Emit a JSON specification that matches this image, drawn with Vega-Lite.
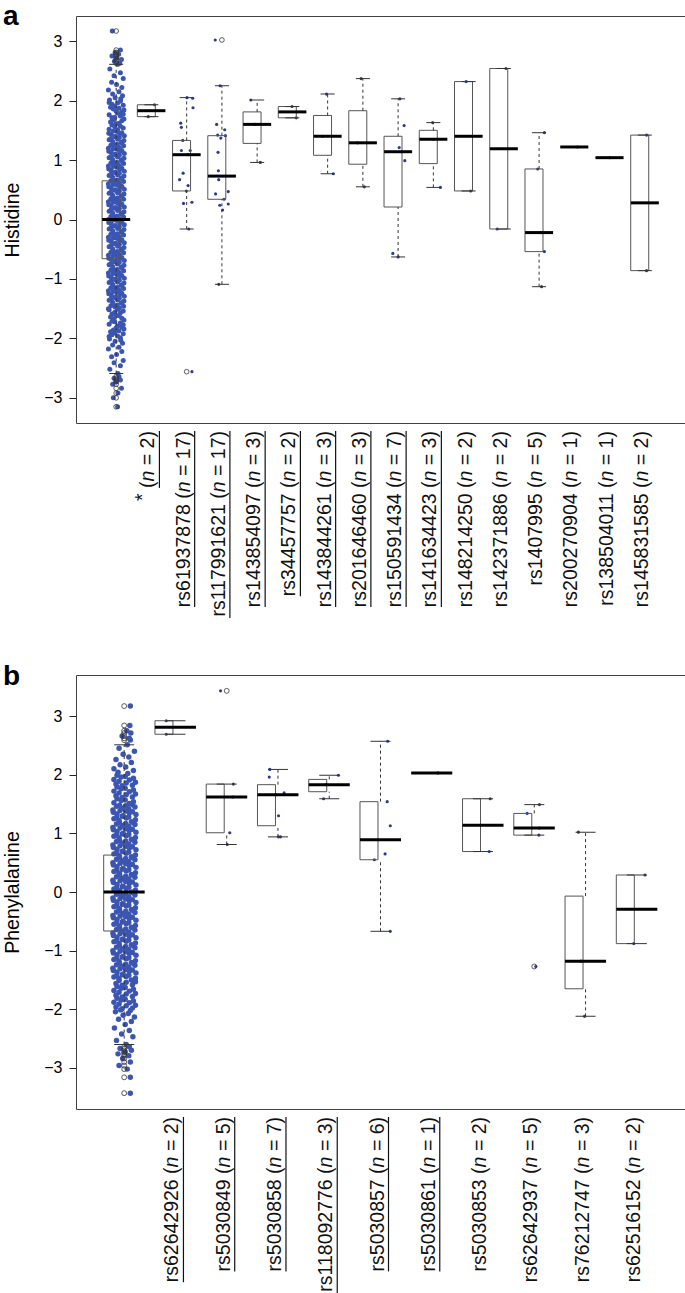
{
"$schema": "https://vega.github.io/schema/vega-lite/v6.json",
"background": "white",
"padding": {"left": 1, "top": 2, "right": 0, "bottom": 0},
"spacing": 42,
"resolve": {"scale": {"xOffset": "independent", "x": "independent", "y": "independent"}},
"config": {"view": {"stroke": "#404040", "strokeWidth": 1}, "font": "Liberation Sans"},
"datasets": {
"boxA": [{"p":1,"q1":-0.66,"med":0,"q3":0.65,"lo":-2.59,"hi":2.61},{"p":2,"q1":1.73,"med":1.83,"q3":1.93,"lo":1.73,"hi":1.93},{"p":3,"q1":0.48,"med":1.09,"q3":1.33,"lo":-0.16,"hi":2.05},{"p":4,"q1":0.34,"med":0.73,"q3":1.41,"lo":-1.09,"hi":2.25},{"p":5,"q1":1.28,"med":1.6,"q3":1.81,"lo":0.96,"hi":2.01},{"p":6,"q1":1.71,"med":1.81,"q3":1.9,"lo":1.71,"hi":1.9},{"p":7,"q1":1.08,"med":1.4,"q3":1.75,"lo":0.77,"hi":2.11},{"p":8,"q1":0.93,"med":1.29,"q3":1.83,"lo":0.55,"hi":2.37},{"p":9,"q1":0.21,"med":1.14,"q3":1.4,"lo":-0.63,"hi":2.03},{"p":10,"q1":0.94,"med":1.35,"q3":1.5,"lo":0.54,"hi":1.63},{"p":11,"q1":0.48,"med":1.4,"q3":2.32,"lo":0.48,"hi":2.32},{"p":12,"q1":-0.16,"med":1.19,"q3":2.54,"lo":-0.16,"hi":2.54},{"p":13,"q1":-0.54,"med":-0.22,"q3":0.85,"lo":-1.13,"hi":1.46},{"p":14,"q1":1.22,"med":1.22,"q3":1.22,"lo":1.22,"hi":1.22},{"p":15,"q1":1.04,"med":1.04,"q3":1.04,"lo":1.04,"hi":1.04},{"p":16,"q1":-0.86,"med":0.28,"q3":1.42,"lo":-0.86,"hi":1.42}],
"boxB": [{"p":1,"q1":-0.665,"med":0,"q3":0.63,"lo":-2.6,"hi":2.51},{"p":2,"q1":2.69,"med":2.81,"q3":2.92,"lo":2.69,"hi":2.92},{"p":3,"q1":1.01,"med":1.62,"q3":1.84,"lo":0.81,"hi":1.84},{"p":4,"q1":1.13,"med":1.66,"q3":1.83,"lo":0.94,"hi":2.09},{"p":5,"q1":1.71,"med":1.83,"q3":1.92,"lo":1.59,"hi":1.99},{"p":6,"q1":0.55,"med":0.89,"q3":1.54,"lo":-0.67,"hi":2.57},{"p":7,"q1":2.03,"med":2.03,"q3":2.03,"lo":2.03,"hi":2.03},{"p":8,"q1":0.69,"med":1.14,"q3":1.59,"lo":0.69,"hi":1.59},{"p":9,"q1":0.97,"med":1.09,"q3":1.34,"lo":0.97,"hi":1.49},{"p":10,"q1":-1.65,"med":-1.18,"q3":-0.07,"lo":-2.12,"hi":1.02},{"p":11,"q1":-0.88,"med":-0.295,"q3":0.29,"lo":-0.88,"hi":0.29}],
"labA": [{"p":2,"s":"*","n":"2","u":true},{"p":3,"s":"rs61937878","n":"17","u":true},{"p":4,"s":"rs117991621","n":"17","u":true},{"p":5,"s":"rs143854097","n":"3","u":true},{"p":6,"s":"rs34457757","n":"2","u":true},{"p":7,"s":"rs143844261","n":"3","u":true},{"p":8,"s":"rs201646460","n":"3","u":true},{"p":9,"s":"rs150591434","n":"7","u":true},{"p":10,"s":"rs141634423","n":"3","u":true},{"p":11,"s":"rs148214250","n":"2","u":false},{"p":12,"s":"rs142371886","n":"2","u":false},{"p":13,"s":"rs1407995","n":"5","u":false},{"p":14,"s":"rs200270904","n":"1","u":false},{"p":15,"s":"rs138504011","n":"1","u":false},{"p":16,"s":"rs145831585","n":"2","u":false}],
"labB": [{"p":2,"s":"rs62642926","n":"2","u":true},{"p":3,"s":"rs5030849","n":"5","u":true},{"p":4,"s":"rs5030858","n":"7","u":true},{"p":5,"s":"rs118092776","n":"3","u":true},{"p":6,"s":"rs5030857","n":"6","u":true},{"p":7,"s":"rs5030861","n":"1","u":true},{"p":8,"s":"rs5030853","n":"2","u":false},{"p":9,"s":"rs62642937","n":"5","u":false},{"p":10,"s":"rs76212747","n":"3","u":false},{"p":11,"s":"rs62516152","n":"2","u":false}],
"ptsA": [
{"p":1,"v":-2.59,"j":0.05},{"p":1,"v":-2.52,"j":-0.18},{"p":1,"v":-2.46,"j":0.12},{"p":1,"v":-2.41,"j":-0.06},{"p":1,"v":-2.37,"j":0.2},{"p":1,"v":-2.31,"j":-0.13},{"p":1,"v":-2.27,"j":0.01},{"p":1,"v":-2.22,"j":0.16},{"p":1,"v":-2.18,"j":-0.22},{"p":1,"v":-2.15,"j":0.08},{"p":1,"v":-2.11,"j":-0.1},{"p":1,"v":-2.08,"j":0.18},{"p":1,"v":-2.05,"j":-0.03},{"p":1,"v":-2.03,"j":0.13},{"p":1,"v":-2.01,"j":-0.19},
{"p":1,"v":-1.99,"j":0.12},{"p":1,"v":-1.97,"j":-0.2},{"p":1,"v":-1.96,"j":0.04},{"p":1,"v":-1.94,"j":-0.12},{"p":1,"v":-1.92,"j":0.2},{"p":1,"v":-1.91,"j":-0.04},
{"p":1,"v":-1.89,"j":-0.16},{"p":1,"v":-1.87,"j":0.08},{"p":1,"v":-1.86,"j":-0.08},{"p":1,"v":-1.84,"j":0.22},{"p":1,"v":-1.82,"j":0},{"p":1,"v":-1.81,"j":0.16},
{"p":1,"v":-1.79,"j":0.04},{"p":1,"v":-1.77,"j":0.2},{"p":1,"v":-1.76,"j":-0.2},{"p":1,"v":-1.74,"j":0.12},{"p":1,"v":-1.72,"j":-0.04},{"p":1,"v":-1.71,"j":-0.12},
{"p":1,"v":-1.69,"j":0.22},{"p":1,"v":-1.67,"j":-0.08},{"p":1,"v":-1.66,"j":0.16},{"p":1,"v":-1.64,"j":-0.16},{"p":1,"v":-1.62,"j":0.08},{"p":1,"v":-1.61,"j":0},
{"p":1,"v":-1.59,"j":-0.12},{"p":1,"v":-1.57,"j":0.12},{"p":1,"v":-1.56,"j":-0.04},{"p":1,"v":-1.54,"j":0.2},{"p":1,"v":-1.52,"j":-0.2},{"p":1,"v":-1.51,"j":0.04},
{"p":1,"v":-1.5,"j":-0.22},{"p":1,"v":-1.49,"j":0.09},{"p":1,"v":-1.47,"j":-0.03},{"p":1,"v":-1.46,"j":0.21},{"p":1,"v":-1.45,"j":-0.15},{"p":1,"v":-1.44,"j":0.03},{"p":1,"v":-1.42,"j":-0.09},{"p":1,"v":-1.41,"j":0.16},
{"p":1,"v":-1.4,"j":0.14},{"p":1,"v":-1.39,"j":-0.1},{"p":1,"v":-1.37,"j":0.22},{"p":1,"v":-1.36,"j":-0.2},{"p":1,"v":-1.35,"j":0.04},{"p":1,"v":-1.34,"j":-0.15},{"p":1,"v":-1.32,"j":0.09},{"p":1,"v":-1.31,"j":-0.04},
{"p":1,"v":-1.3,"j":-0.02},{"p":1,"v":-1.29,"j":0.23},{"p":1,"v":-1.27,"j":-0.14},{"p":1,"v":-1.26,"j":0.1},{"p":1,"v":-1.25,"j":-0.21},{"p":1,"v":-1.24,"j":0.16},{"p":1,"v":-1.22,"j":0.03},{"p":1,"v":-1.21,"j":-0.08},
{"p":1,"v":-1.2,"j":-0.22},{"p":1,"v":-1.19,"j":0.09},{"p":1,"v":-1.17,"j":-0.03},{"p":1,"v":-1.16,"j":0.21},{"p":1,"v":-1.15,"j":-0.15},{"p":1,"v":-1.14,"j":0.03},{"p":1,"v":-1.12,"j":-0.09},{"p":1,"v":-1.11,"j":0.16},
{"p":1,"v":-1.1,"j":0.14},{"p":1,"v":-1.09,"j":-0.1},{"p":1,"v":-1.07,"j":0.22},{"p":1,"v":-1.06,"j":-0.2},{"p":1,"v":-1.05,"j":0.04},{"p":1,"v":-1.04,"j":-0.15},{"p":1,"v":-1.02,"j":0.09},{"p":1,"v":-1.01,"j":-0.04},
{"p":1,"v":-1,"j":-0.02},{"p":1,"v":-0.99,"j":0.23},{"p":1,"v":-0.97,"j":-0.14},{"p":1,"v":-0.96,"j":0.1},{"p":1,"v":-0.95,"j":-0.21},{"p":1,"v":-0.94,"j":0.16},{"p":1,"v":-0.92,"j":0.03},{"p":1,"v":-0.91,"j":-0.08},
{"p":1,"v":-0.9,"j":-0.22},{"p":1,"v":-0.89,"j":0.09},{"p":1,"v":-0.87,"j":-0.03},{"p":1,"v":-0.86,"j":0.21},{"p":1,"v":-0.85,"j":-0.15},{"p":1,"v":-0.84,"j":0.03},{"p":1,"v":-0.82,"j":-0.09},{"p":1,"v":-0.81,"j":0.16},
{"p":1,"v":-0.8,"j":0.14},{"p":1,"v":-0.79,"j":-0.1},{"p":1,"v":-0.77,"j":0.22},{"p":1,"v":-0.76,"j":-0.2},{"p":1,"v":-0.75,"j":0.04},{"p":1,"v":-0.74,"j":-0.15},{"p":1,"v":-0.72,"j":0.09},{"p":1,"v":-0.71,"j":-0.04},
{"p":1,"v":-0.7,"j":-0.02},{"p":1,"v":-0.69,"j":0.23},{"p":1,"v":-0.67,"j":-0.14},{"p":1,"v":-0.66,"j":0.1},{"p":1,"v":-0.65,"j":-0.21},{"p":1,"v":-0.64,"j":0.16},{"p":1,"v":-0.62,"j":0.03},{"p":1,"v":-0.61,"j":-0.08},
{"p":1,"v":-0.6,"j":-0.22},{"p":1,"v":-0.59,"j":0.09},{"p":1,"v":-0.57,"j":-0.03},{"p":1,"v":-0.56,"j":0.21},{"p":1,"v":-0.55,"j":-0.15},{"p":1,"v":-0.54,"j":0.03},{"p":1,"v":-0.52,"j":-0.09},{"p":1,"v":-0.51,"j":0.16},
{"p":1,"v":-0.5,"j":0.14},{"p":1,"v":-0.49,"j":-0.1},{"p":1,"v":-0.47,"j":0.22},{"p":1,"v":-0.46,"j":-0.2},{"p":1,"v":-0.45,"j":0.04},{"p":1,"v":-0.44,"j":-0.15},{"p":1,"v":-0.42,"j":0.09},{"p":1,"v":-0.41,"j":-0.04},
{"p":1,"v":-0.4,"j":-0.02},{"p":1,"v":-0.39,"j":0.23},{"p":1,"v":-0.37,"j":-0.14},{"p":1,"v":-0.36,"j":0.1},{"p":1,"v":-0.35,"j":-0.21},{"p":1,"v":-0.34,"j":0.16},{"p":1,"v":-0.32,"j":0.03},{"p":1,"v":-0.31,"j":-0.08},
{"p":1,"v":-0.3,"j":-0.22},{"p":1,"v":-0.29,"j":0.09},{"p":1,"v":-0.27,"j":-0.03},{"p":1,"v":-0.26,"j":0.21},{"p":1,"v":-0.25,"j":-0.15},{"p":1,"v":-0.24,"j":0.03},{"p":1,"v":-0.22,"j":-0.09},{"p":1,"v":-0.21,"j":0.16},
{"p":1,"v":-0.2,"j":0.14},{"p":1,"v":-0.19,"j":-0.1},{"p":1,"v":-0.17,"j":0.22},{"p":1,"v":-0.16,"j":-0.2},{"p":1,"v":-0.15,"j":0.04},{"p":1,"v":-0.14,"j":-0.15},{"p":1,"v":-0.12,"j":0.09},{"p":1,"v":-0.11,"j":-0.04},
{"p":1,"v":-0.1,"j":-0.02},{"p":1,"v":-0.09,"j":0.23},{"p":1,"v":-0.07,"j":-0.14},{"p":1,"v":-0.06,"j":0.1},{"p":1,"v":-0.05,"j":-0.21},{"p":1,"v":-0.04,"j":0.16},{"p":1,"v":-0.02,"j":0.03},{"p":1,"v":-0.01,"j":-0.08},
{"p":1,"v":0,"j":-0.22},{"p":1,"v":0.01,"j":0.09},{"p":1,"v":0.03,"j":-0.03},{"p":1,"v":0.04,"j":0.21},{"p":1,"v":0.05,"j":-0.15},{"p":1,"v":0.06,"j":0.03},{"p":1,"v":0.08,"j":-0.09},{"p":1,"v":0.09,"j":0.16},
{"p":1,"v":0.1,"j":0.14},{"p":1,"v":0.11,"j":-0.1},{"p":1,"v":0.13,"j":0.22},{"p":1,"v":0.14,"j":-0.2},{"p":1,"v":0.15,"j":0.04},{"p":1,"v":0.16,"j":-0.15},{"p":1,"v":0.18,"j":0.09},{"p":1,"v":0.19,"j":-0.04},
{"p":1,"v":0.2,"j":-0.02},{"p":1,"v":0.21,"j":0.23},{"p":1,"v":0.23,"j":-0.14},{"p":1,"v":0.24,"j":0.1},{"p":1,"v":0.25,"j":-0.21},{"p":1,"v":0.26,"j":0.16},{"p":1,"v":0.28,"j":0.03},{"p":1,"v":0.29,"j":-0.08},
{"p":1,"v":0.3,"j":-0.22},{"p":1,"v":0.31,"j":0.09},{"p":1,"v":0.33,"j":-0.03},{"p":1,"v":0.34,"j":0.21},{"p":1,"v":0.35,"j":-0.15},{"p":1,"v":0.36,"j":0.03},{"p":1,"v":0.38,"j":-0.09},{"p":1,"v":0.39,"j":0.16},
{"p":1,"v":0.4,"j":0.14},{"p":1,"v":0.41,"j":-0.1},{"p":1,"v":0.43,"j":0.22},{"p":1,"v":0.44,"j":-0.2},{"p":1,"v":0.45,"j":0.04},{"p":1,"v":0.46,"j":-0.15},{"p":1,"v":0.48,"j":0.09},{"p":1,"v":0.49,"j":-0.04},
{"p":1,"v":0.5,"j":-0.02},{"p":1,"v":0.51,"j":0.23},{"p":1,"v":0.53,"j":-0.14},{"p":1,"v":0.54,"j":0.1},{"p":1,"v":0.55,"j":-0.21},{"p":1,"v":0.56,"j":0.16},{"p":1,"v":0.58,"j":0.03},{"p":1,"v":0.59,"j":-0.08},
{"p":1,"v":0.6,"j":-0.22},{"p":1,"v":0.61,"j":0.09},{"p":1,"v":0.63,"j":-0.03},{"p":1,"v":0.64,"j":0.21},{"p":1,"v":0.65,"j":-0.15},{"p":1,"v":0.66,"j":0.03},{"p":1,"v":0.68,"j":-0.09},{"p":1,"v":0.69,"j":0.16},
{"p":1,"v":0.7,"j":0.14},{"p":1,"v":0.71,"j":-0.1},{"p":1,"v":0.73,"j":0.22},{"p":1,"v":0.74,"j":-0.2},{"p":1,"v":0.75,"j":0.04},{"p":1,"v":0.76,"j":-0.15},{"p":1,"v":0.78,"j":0.09},{"p":1,"v":0.79,"j":-0.04},
{"p":1,"v":0.8,"j":-0.02},{"p":1,"v":0.81,"j":0.23},{"p":1,"v":0.83,"j":-0.14},{"p":1,"v":0.84,"j":0.1},{"p":1,"v":0.85,"j":-0.21},{"p":1,"v":0.86,"j":0.16},{"p":1,"v":0.88,"j":0.03},{"p":1,"v":0.89,"j":-0.08},
{"p":1,"v":0.9,"j":-0.22},{"p":1,"v":0.91,"j":0.09},{"p":1,"v":0.93,"j":-0.03},{"p":1,"v":0.94,"j":0.21},{"p":1,"v":0.95,"j":-0.15},{"p":1,"v":0.96,"j":0.03},{"p":1,"v":0.98,"j":-0.09},{"p":1,"v":0.99,"j":0.16},
{"p":1,"v":1,"j":0.14},{"p":1,"v":1.01,"j":-0.1},{"p":1,"v":1.03,"j":0.22},{"p":1,"v":1.04,"j":-0.2},{"p":1,"v":1.05,"j":0.04},{"p":1,"v":1.06,"j":-0.15},{"p":1,"v":1.08,"j":0.09},{"p":1,"v":1.09,"j":-0.04},
{"p":1,"v":1.1,"j":-0.02},{"p":1,"v":1.11,"j":0.23},{"p":1,"v":1.13,"j":-0.14},{"p":1,"v":1.14,"j":0.1},{"p":1,"v":1.15,"j":-0.21},{"p":1,"v":1.16,"j":0.16},{"p":1,"v":1.18,"j":0.03},{"p":1,"v":1.19,"j":-0.08},
{"p":1,"v":1.2,"j":-0.22},{"p":1,"v":1.21,"j":0.09},{"p":1,"v":1.23,"j":-0.03},{"p":1,"v":1.24,"j":0.21},{"p":1,"v":1.25,"j":-0.15},{"p":1,"v":1.26,"j":0.03},{"p":1,"v":1.28,"j":-0.09},{"p":1,"v":1.29,"j":0.16},
{"p":1,"v":1.3,"j":0.14},{"p":1,"v":1.31,"j":-0.1},{"p":1,"v":1.33,"j":0.22},{"p":1,"v":1.34,"j":-0.2},{"p":1,"v":1.35,"j":0.04},{"p":1,"v":1.36,"j":-0.15},{"p":1,"v":1.38,"j":0.09},{"p":1,"v":1.39,"j":-0.04},
{"p":1,"v":1.4,"j":-0.02},{"p":1,"v":1.41,"j":0.23},{"p":1,"v":1.43,"j":-0.14},{"p":1,"v":1.44,"j":0.1},{"p":1,"v":1.45,"j":-0.21},{"p":1,"v":1.46,"j":0.16},{"p":1,"v":1.48,"j":0.03},{"p":1,"v":1.49,"j":-0.08},
{"p":1,"v":1.51,"j":0.04},{"p":1,"v":1.52,"j":-0.2},{"p":1,"v":1.54,"j":0.2},{"p":1,"v":1.56,"j":-0.04},{"p":1,"v":1.57,"j":0.12},{"p":1,"v":1.59,"j":-0.12},
{"p":1,"v":1.61,"j":0},{"p":1,"v":1.62,"j":0.08},{"p":1,"v":1.64,"j":-0.16},{"p":1,"v":1.66,"j":0.16},{"p":1,"v":1.67,"j":-0.08},{"p":1,"v":1.69,"j":0.22},
{"p":1,"v":1.71,"j":-0.12},{"p":1,"v":1.72,"j":-0.04},{"p":1,"v":1.74,"j":0.12},{"p":1,"v":1.76,"j":-0.2},{"p":1,"v":1.77,"j":0.2},{"p":1,"v":1.79,"j":0.04},
{"p":1,"v":1.81,"j":0.16},{"p":1,"v":1.82,"j":0},{"p":1,"v":1.84,"j":0.22},{"p":1,"v":1.86,"j":-0.08},{"p":1,"v":1.87,"j":0.08},{"p":1,"v":1.89,"j":-0.16},
{"p":1,"v":1.91,"j":-0.04},{"p":1,"v":1.92,"j":0.2},{"p":1,"v":1.94,"j":-0.12},{"p":1,"v":1.96,"j":0.04},{"p":1,"v":1.97,"j":-0.2},{"p":1,"v":1.99,"j":0.12},
{"p":1,"v":2.01,"j":-0.19},{"p":1,"v":2.03,"j":0.13},{"p":1,"v":2.05,"j":-0.03},{"p":1,"v":2.08,"j":0.18},{"p":1,"v":2.11,"j":-0.1},{"p":1,"v":2.15,"j":0.08},{"p":1,"v":2.18,"j":-0.22},{"p":1,"v":2.22,"j":0.16},{"p":1,"v":2.27,"j":0.01},{"p":1,"v":2.31,"j":-0.13},{"p":1,"v":2.37,"j":0.2},{"p":1,"v":2.42,"j":-0.06},{"p":1,"v":2.47,"j":0.12},{"p":1,"v":2.53,"j":-0.18},{"p":1,"v":2.61,"j":0.05},
{"p":1,"v":2.63,"j":0.1,"o":1},{"p":1,"v":2.66,"j":-0.05,"o":1},{"p":1,"v":2.69,"j":0.15,"o":1},{"p":1,"v":2.72,"j":0.02,"o":1},{"p":1,"v":2.75,"j":-0.12,"o":1},{"p":1,"v":2.78,"j":0.07,"o":1},{"p":1,"v":2.81,"j":-0.03,"o":1},{"p":1,"v":2.85,"j":0.12,"o":1},{"p":1,"v":3.17,"j":-0.11,"o":1},
{"p":1,"v":-2.64,"j":0.08,"o":1},{"p":1,"v":-2.67,"j":-0.06,"o":1},{"p":1,"v":-2.7,"j":0.12,"o":1},{"p":1,"v":-2.73,"j":0,"o":1},{"p":1,"v":-2.77,"j":-0.1,"o":1},{"p":1,"v":-2.84,"j":0.15,"o":1},{"p":1,"v":-2.92,"j":0.05,"o":1},{"p":1,"v":-3,"j":-0.08,"o":1},{"p":1,"v":-3.15,"j":0.04,"o":1},
{"p":2,"v":1.93,"j":0.09},{"p":2,"v":1.73,"j":-0.09},
{"p":3,"v":2.05,"j":0.01},{"p":3,"v":2.04,"j":0.17},{"p":3,"v":1.88,"j":0.18},{"p":3,"v":1.62,"j":-0.17},{"p":3,"v":1.55,"j":-0.15},{"p":3,"v":1.33,"j":-0.11},{"p":3,"v":1.16,"j":-0.15},{"p":3,"v":1.16,"j":0.1},{"p":3,"v":1.09,"j":0.04},{"p":3,"v":0.78,"j":-0.1},{"p":3,"v":0.67,"j":-0.2},{"p":3,"v":0.57,"j":0.04},{"p":3,"v":0.48,"j":-0.01},{"p":3,"v":0.27,"j":-0.09},{"p":3,"v":0.29,"j":0.15},{"p":3,"v":-0.16,"j":0.06},{"p":3,"v":-2.56,"j":0.15,"o":1},
{"p":4,"v":3.02,"j":-0.19,"o":1},{"p":4,"v":2.25,"j":-0.05},{"p":4,"v":1.6,"j":-0.15},{"p":4,"v":1.51,"j":0.08},{"p":4,"v":1.42,"j":-0.12},{"p":4,"v":1.41,"j":0.1},{"p":4,"v":1.37,"j":-0.03},{"p":4,"v":1.13,"j":-0.11},{"p":4,"v":0.82,"j":-0.1},{"p":4,"v":0.67,"j":-0.09},{"p":4,"v":0.47,"j":0.18},{"p":4,"v":0.43,"j":-0.18},{"p":4,"v":0.34,"j":0.06},{"p":4,"v":0.26,"j":0.18},{"p":4,"v":0.24,"j":-0.06},{"p":4,"v":0.16,"j":0.02},{"p":4,"v":-1.09,"j":-0.09},
{"p":5,"v":2.01,"j":-0.18},{"p":5,"v":1.6,"j":-0.05},{"p":5,"v":0.96,"j":0.09},
{"p":6,"v":1.9,"j":-0.01},{"p":6,"v":1.71,"j":0.11},
{"p":7,"v":2.11,"j":-0.03},{"p":7,"v":1.4,"j":-0.14},{"p":7,"v":0.77,"j":0.16},
{"p":8,"v":2.37,"j":-0.05},{"p":8,"v":1.29,"j":-0.15},{"p":8,"v":0.55,"j":0.04},
{"p":9,"v":2.03,"j":0.05},{"p":9,"v":1.58,"j":0.17},{"p":9,"v":1.21,"j":0.03},{"p":9,"v":1.14,"j":0.1},{"p":9,"v":0.99,"j":0.19},{"p":9,"v":-0.57,"j":-0.15},{"p":9,"v":-0.63,"j":0},
{"p":10,"v":1.63,"j":-0.02},{"p":10,"v":1.35,"j":0},{"p":10,"v":0.54,"j":0.2},
{"p":11,"v":2.32,"j":-0.07},{"p":11,"v":0.48,"j":0.06},
{"p":12,"v":2.54,"j":0.06},{"p":12,"v":-0.16,"j":-0.19},
{"p":13,"v":1.46,"j":0.15},{"p":13,"v":0.85,"j":-0.04},{"p":13,"v":-0.22,"j":0.05},{"p":13,"v":-0.54,"j":0.15},{"p":13,"v":-1.13,"j":0.07},
{"p":14,"v":1.22,"j":0.09},
{"p":15,"v":1.04,"j":0},
{"p":16,"v":1.42,"j":0.05},{"p":16,"v":-0.86,"j":0.05}
],
"ptsB": [
{"p":1,"v":-2.6,"j":0.04},{"p":1,"v":-2.53,"j":-0.15},{"p":1,"v":-2.47,"j":0.17},{"p":1,"v":-2.42,"j":-0.05},{"p":1,"v":-2.36,"j":0.1},{"p":1,"v":-2.32,"j":-0.19},{"p":1,"v":-2.26,"j":0.02},{"p":1,"v":-2.21,"j":0.14},{"p":1,"v":-2.17,"j":-0.11},{"p":1,"v":-2.13,"j":0.2},{"p":1,"v":-2.1,"j":-0.02},{"p":1,"v":-2.07,"j":0.08},{"p":1,"v":-2.04,"j":-0.17},{"p":1,"v":-2.02,"j":0.12},{"p":1,"v":-2.01,"j":-0.07},
{"p":1,"v":-1.99,"j":-0.04},{"p":1,"v":-1.98,"j":0.16},{"p":1,"v":-1.96,"j":-0.16},{"p":1,"v":-1.94,"j":0.04},{"p":1,"v":-1.93,"j":0.22},{"p":1,"v":-1.91,"j":-0.1},
{"p":1,"v":-1.89,"j":0.1},{"p":1,"v":-1.88,"j":-0.2},{"p":1,"v":-1.86,"j":0.18},{"p":1,"v":-1.84,"j":-0.06},{"p":1,"v":-1.83,"j":0.02},{"p":1,"v":-1.81,"j":-0.14},
{"p":1,"v":-1.79,"j":-0.04},{"p":1,"v":-1.78,"j":0.16},{"p":1,"v":-1.76,"j":-0.16},{"p":1,"v":-1.74,"j":0.04},{"p":1,"v":-1.73,"j":0.22},{"p":1,"v":-1.71,"j":-0.1},
{"p":1,"v":-1.69,"j":0.1},{"p":1,"v":-1.68,"j":-0.2},{"p":1,"v":-1.66,"j":0.18},{"p":1,"v":-1.64,"j":-0.06},{"p":1,"v":-1.63,"j":0.02},{"p":1,"v":-1.61,"j":-0.14},
{"p":1,"v":-1.59,"j":-0.04},{"p":1,"v":-1.58,"j":0.16},{"p":1,"v":-1.56,"j":-0.16},{"p":1,"v":-1.54,"j":0.04},{"p":1,"v":-1.53,"j":0.22},{"p":1,"v":-1.51,"j":-0.1},
{"p":1,"v":-1.5,"j":0.14},{"p":1,"v":-1.48,"j":-0.1},{"p":1,"v":-1.47,"j":0.22},{"p":1,"v":-1.45,"j":-0.2},{"p":1,"v":-1.44,"j":0.04},{"p":1,"v":-1.43,"j":-0.15},{"p":1,"v":-1.42,"j":0.09},{"p":1,"v":-1.41,"j":-0.04},
{"p":1,"v":-1.4,"j":-0.02},{"p":1,"v":-1.38,"j":0.23},{"p":1,"v":-1.37,"j":-0.14},{"p":1,"v":-1.35,"j":0.1},{"p":1,"v":-1.34,"j":-0.21},{"p":1,"v":-1.33,"j":0.16},{"p":1,"v":-1.32,"j":0.03},{"p":1,"v":-1.31,"j":-0.08},
{"p":1,"v":-1.3,"j":-0.22},{"p":1,"v":-1.28,"j":0.09},{"p":1,"v":-1.27,"j":-0.03},{"p":1,"v":-1.25,"j":0.21},{"p":1,"v":-1.24,"j":-0.15},{"p":1,"v":-1.23,"j":0.03},{"p":1,"v":-1.22,"j":-0.09},{"p":1,"v":-1.21,"j":0.16},
{"p":1,"v":-1.2,"j":0.14},{"p":1,"v":-1.18,"j":-0.1},{"p":1,"v":-1.17,"j":0.22},{"p":1,"v":-1.15,"j":-0.2},{"p":1,"v":-1.14,"j":0.04},{"p":1,"v":-1.13,"j":-0.15},{"p":1,"v":-1.12,"j":0.09},{"p":1,"v":-1.11,"j":-0.04},
{"p":1,"v":-1.1,"j":-0.02},{"p":1,"v":-1.08,"j":0.23},{"p":1,"v":-1.07,"j":-0.14},{"p":1,"v":-1.05,"j":0.1},{"p":1,"v":-1.04,"j":-0.21},{"p":1,"v":-1.03,"j":0.16},{"p":1,"v":-1.02,"j":0.03},{"p":1,"v":-1.01,"j":-0.08},
{"p":1,"v":-1,"j":-0.22},{"p":1,"v":-0.98,"j":0.09},{"p":1,"v":-0.97,"j":-0.03},{"p":1,"v":-0.95,"j":0.21},{"p":1,"v":-0.94,"j":-0.15},{"p":1,"v":-0.93,"j":0.03},{"p":1,"v":-0.92,"j":-0.09},{"p":1,"v":-0.91,"j":0.16},
{"p":1,"v":-0.9,"j":0.14},{"p":1,"v":-0.88,"j":-0.1},{"p":1,"v":-0.87,"j":0.22},{"p":1,"v":-0.85,"j":-0.2},{"p":1,"v":-0.84,"j":0.04},{"p":1,"v":-0.83,"j":-0.15},{"p":1,"v":-0.82,"j":0.09},{"p":1,"v":-0.81,"j":-0.04},
{"p":1,"v":-0.8,"j":-0.02},{"p":1,"v":-0.78,"j":0.23},{"p":1,"v":-0.77,"j":-0.14},{"p":1,"v":-0.75,"j":0.1},{"p":1,"v":-0.74,"j":-0.21},{"p":1,"v":-0.73,"j":0.16},{"p":1,"v":-0.72,"j":0.03},{"p":1,"v":-0.71,"j":-0.08},
{"p":1,"v":-0.7,"j":-0.22},{"p":1,"v":-0.68,"j":0.09},{"p":1,"v":-0.67,"j":-0.03},{"p":1,"v":-0.65,"j":0.21},{"p":1,"v":-0.64,"j":-0.15},{"p":1,"v":-0.63,"j":0.03},{"p":1,"v":-0.62,"j":-0.09},{"p":1,"v":-0.61,"j":0.16},
{"p":1,"v":-0.6,"j":0.14},{"p":1,"v":-0.58,"j":-0.1},{"p":1,"v":-0.57,"j":0.22},{"p":1,"v":-0.55,"j":-0.2},{"p":1,"v":-0.54,"j":0.04},{"p":1,"v":-0.53,"j":-0.15},{"p":1,"v":-0.52,"j":0.09},{"p":1,"v":-0.51,"j":-0.04},
{"p":1,"v":-0.5,"j":-0.02},{"p":1,"v":-0.48,"j":0.23},{"p":1,"v":-0.47,"j":-0.14},{"p":1,"v":-0.45,"j":0.1},{"p":1,"v":-0.44,"j":-0.21},{"p":1,"v":-0.43,"j":0.16},{"p":1,"v":-0.42,"j":0.03},{"p":1,"v":-0.41,"j":-0.08},
{"p":1,"v":-0.4,"j":-0.22},{"p":1,"v":-0.38,"j":0.09},{"p":1,"v":-0.37,"j":-0.03},{"p":1,"v":-0.35,"j":0.21},{"p":1,"v":-0.34,"j":-0.15},{"p":1,"v":-0.33,"j":0.03},{"p":1,"v":-0.32,"j":-0.09},{"p":1,"v":-0.31,"j":0.16},
{"p":1,"v":-0.3,"j":0.14},{"p":1,"v":-0.28,"j":-0.1},{"p":1,"v":-0.27,"j":0.22},{"p":1,"v":-0.25,"j":-0.2},{"p":1,"v":-0.24,"j":0.04},{"p":1,"v":-0.23,"j":-0.15},{"p":1,"v":-0.22,"j":0.09},{"p":1,"v":-0.21,"j":-0.04},
{"p":1,"v":-0.2,"j":-0.02},{"p":1,"v":-0.18,"j":0.23},{"p":1,"v":-0.17,"j":-0.14},{"p":1,"v":-0.15,"j":0.1},{"p":1,"v":-0.14,"j":-0.21},{"p":1,"v":-0.13,"j":0.16},{"p":1,"v":-0.12,"j":0.03},{"p":1,"v":-0.11,"j":-0.08},
{"p":1,"v":-0.1,"j":-0.22},{"p":1,"v":-0.08,"j":0.09},{"p":1,"v":-0.07,"j":-0.03},{"p":1,"v":-0.05,"j":0.21},{"p":1,"v":-0.04,"j":-0.15},{"p":1,"v":-0.03,"j":0.03},{"p":1,"v":-0.02,"j":-0.09},{"p":1,"v":-0.01,"j":0.16},
{"p":1,"v":0,"j":0.14},{"p":1,"v":0.02,"j":-0.1},{"p":1,"v":0.03,"j":0.22},{"p":1,"v":0.05,"j":-0.2},{"p":1,"v":0.06,"j":0.04},{"p":1,"v":0.07,"j":-0.15},{"p":1,"v":0.08,"j":0.09},{"p":1,"v":0.09,"j":-0.04},
{"p":1,"v":0.1,"j":-0.02},{"p":1,"v":0.12,"j":0.23},{"p":1,"v":0.13,"j":-0.14},{"p":1,"v":0.15,"j":0.1},{"p":1,"v":0.16,"j":-0.21},{"p":1,"v":0.17,"j":0.16},{"p":1,"v":0.18,"j":0.03},{"p":1,"v":0.19,"j":-0.08},
{"p":1,"v":0.2,"j":-0.22},{"p":1,"v":0.22,"j":0.09},{"p":1,"v":0.23,"j":-0.03},{"p":1,"v":0.25,"j":0.21},{"p":1,"v":0.26,"j":-0.15},{"p":1,"v":0.27,"j":0.03},{"p":1,"v":0.28,"j":-0.09},{"p":1,"v":0.29,"j":0.16},
{"p":1,"v":0.3,"j":0.14},{"p":1,"v":0.32,"j":-0.1},{"p":1,"v":0.33,"j":0.22},{"p":1,"v":0.35,"j":-0.2},{"p":1,"v":0.36,"j":0.04},{"p":1,"v":0.37,"j":-0.15},{"p":1,"v":0.38,"j":0.09},{"p":1,"v":0.39,"j":-0.04},
{"p":1,"v":0.4,"j":-0.02},{"p":1,"v":0.42,"j":0.23},{"p":1,"v":0.43,"j":-0.14},{"p":1,"v":0.45,"j":0.1},{"p":1,"v":0.46,"j":-0.21},{"p":1,"v":0.47,"j":0.16},{"p":1,"v":0.48,"j":0.03},{"p":1,"v":0.49,"j":-0.08},
{"p":1,"v":0.5,"j":-0.22},{"p":1,"v":0.52,"j":0.09},{"p":1,"v":0.53,"j":-0.03},{"p":1,"v":0.55,"j":0.21},{"p":1,"v":0.56,"j":-0.15},{"p":1,"v":0.57,"j":0.03},{"p":1,"v":0.58,"j":-0.09},{"p":1,"v":0.59,"j":0.16},
{"p":1,"v":0.6,"j":0.14},{"p":1,"v":0.62,"j":-0.1},{"p":1,"v":0.63,"j":0.22},{"p":1,"v":0.65,"j":-0.2},{"p":1,"v":0.66,"j":0.04},{"p":1,"v":0.67,"j":-0.15},{"p":1,"v":0.68,"j":0.09},{"p":1,"v":0.69,"j":-0.04},
{"p":1,"v":0.7,"j":-0.02},{"p":1,"v":0.72,"j":0.23},{"p":1,"v":0.73,"j":-0.14},{"p":1,"v":0.75,"j":0.1},{"p":1,"v":0.76,"j":-0.21},{"p":1,"v":0.77,"j":0.16},{"p":1,"v":0.78,"j":0.03},{"p":1,"v":0.79,"j":-0.08},
{"p":1,"v":0.8,"j":-0.22},{"p":1,"v":0.82,"j":0.09},{"p":1,"v":0.83,"j":-0.03},{"p":1,"v":0.85,"j":0.21},{"p":1,"v":0.86,"j":-0.15},{"p":1,"v":0.87,"j":0.03},{"p":1,"v":0.88,"j":-0.09},{"p":1,"v":0.89,"j":0.16},
{"p":1,"v":0.9,"j":0.14},{"p":1,"v":0.92,"j":-0.1},{"p":1,"v":0.93,"j":0.22},{"p":1,"v":0.95,"j":-0.2},{"p":1,"v":0.96,"j":0.04},{"p":1,"v":0.97,"j":-0.15},{"p":1,"v":0.98,"j":0.09},{"p":1,"v":0.99,"j":-0.04},
{"p":1,"v":1,"j":-0.02},{"p":1,"v":1.02,"j":0.23},{"p":1,"v":1.03,"j":-0.14},{"p":1,"v":1.05,"j":0.1},{"p":1,"v":1.06,"j":-0.21},{"p":1,"v":1.07,"j":0.16},{"p":1,"v":1.08,"j":0.03},{"p":1,"v":1.09,"j":-0.08},
{"p":1,"v":1.1,"j":-0.22},{"p":1,"v":1.12,"j":0.09},{"p":1,"v":1.13,"j":-0.03},{"p":1,"v":1.15,"j":0.21},{"p":1,"v":1.16,"j":-0.15},{"p":1,"v":1.17,"j":0.03},{"p":1,"v":1.18,"j":-0.09},{"p":1,"v":1.19,"j":0.16},
{"p":1,"v":1.2,"j":0.14},{"p":1,"v":1.22,"j":-0.1},{"p":1,"v":1.23,"j":0.22},{"p":1,"v":1.25,"j":-0.2},{"p":1,"v":1.26,"j":0.04},{"p":1,"v":1.27,"j":-0.15},{"p":1,"v":1.28,"j":0.09},{"p":1,"v":1.29,"j":-0.04},
{"p":1,"v":1.3,"j":-0.02},{"p":1,"v":1.32,"j":0.23},{"p":1,"v":1.33,"j":-0.14},{"p":1,"v":1.35,"j":0.1},{"p":1,"v":1.36,"j":-0.21},{"p":1,"v":1.37,"j":0.16},{"p":1,"v":1.38,"j":0.03},{"p":1,"v":1.39,"j":-0.08},
{"p":1,"v":1.4,"j":-0.22},{"p":1,"v":1.42,"j":0.09},{"p":1,"v":1.43,"j":-0.03},{"p":1,"v":1.45,"j":0.21},{"p":1,"v":1.46,"j":-0.15},{"p":1,"v":1.47,"j":0.03},{"p":1,"v":1.48,"j":-0.09},{"p":1,"v":1.49,"j":0.16},
{"p":1,"v":1.51,"j":0.1},{"p":1,"v":1.52,"j":-0.2},{"p":1,"v":1.54,"j":0.18},{"p":1,"v":1.56,"j":-0.06},{"p":1,"v":1.57,"j":0.02},{"p":1,"v":1.59,"j":-0.14},
{"p":1,"v":1.61,"j":-0.04},{"p":1,"v":1.62,"j":0.16},{"p":1,"v":1.64,"j":-0.16},{"p":1,"v":1.66,"j":0.04},{"p":1,"v":1.67,"j":0.22},{"p":1,"v":1.69,"j":-0.1},
{"p":1,"v":1.71,"j":0.1},{"p":1,"v":1.72,"j":-0.2},{"p":1,"v":1.74,"j":0.18},{"p":1,"v":1.76,"j":-0.06},{"p":1,"v":1.77,"j":0.02},{"p":1,"v":1.79,"j":-0.14},
{"p":1,"v":1.81,"j":-0.04},{"p":1,"v":1.82,"j":0.16},{"p":1,"v":1.84,"j":-0.16},{"p":1,"v":1.86,"j":0.04},{"p":1,"v":1.87,"j":0.22},{"p":1,"v":1.89,"j":-0.1},
{"p":1,"v":1.91,"j":0.1},{"p":1,"v":1.92,"j":-0.2},{"p":1,"v":1.94,"j":0.18},{"p":1,"v":1.96,"j":-0.06},{"p":1,"v":1.97,"j":0.02},{"p":1,"v":1.99,"j":-0.14},
{"p":1,"v":2.02,"j":0.07},{"p":1,"v":2.04,"j":-0.12},{"p":1,"v":2.07,"j":0.18},{"p":1,"v":2.1,"j":-0.2},{"p":1,"v":2.13,"j":0.03},{"p":1,"v":2.17,"j":-0.08},{"p":1,"v":2.21,"j":0.14},{"p":1,"v":2.26,"j":-0.16},{"p":1,"v":2.3,"j":0.09},{"p":1,"v":2.35,"j":-0.02},{"p":1,"v":2.4,"j":0.2},{"p":1,"v":2.45,"j":-0.1},{"p":1,"v":2.51,"j":0.06},
{"p":1,"v":2.59,"j":0.12,"o":1},{"p":1,"v":2.62,"j":0.1,"o":1},{"p":1,"v":2.66,"j":-0.04,"o":1},{"p":1,"v":2.71,"j":0.13,"o":1},{"p":1,"v":2.75,"j":0.05,"o":1},{"p":1,"v":2.84,"j":0.11,"o":1},{"p":1,"v":3.17,"j":0.12,"o":1},
{"p":1,"v":-2.64,"j":0.1,"o":1},{"p":1,"v":-2.67,"j":-0.08,"o":1},{"p":1,"v":-2.7,"j":0.14,"o":1},{"p":1,"v":-2.73,"j":0.02,"o":1},{"p":1,"v":-2.76,"j":-0.12,"o":1},{"p":1,"v":-2.79,"j":0.09,"o":1},{"p":1,"v":-2.84,"j":-0.03,"o":1},{"p":1,"v":-2.9,"j":0.12,"o":1},{"p":1,"v":-2.96,"j":-0.1,"o":1},{"p":1,"v":-3.02,"j":0.06,"o":1},{"p":1,"v":-3.16,"j":0.12,"o":1},{"p":1,"v":-3.43,"j":0.12,"o":1},
{"p":2,"v":2.92,"j":-0.18},{"p":2,"v":2.69,"j":-0.18},
{"p":3,"v":3.43,"j":-0.12,"o":1},{"p":3,"v":1.84,"j":0.13},{"p":3,"v":1.62,"j":0.12},{"p":3,"v":1.01,"j":0.06},{"p":3,"v":0.81,"j":0.01},
{"p":4,"v":2.09,"j":-0.16},{"p":4,"v":1.96,"j":-0.17},{"p":4,"v":1.69,"j":0.12},{"p":4,"v":1.66,"j":-0.04},{"p":4,"v":1.3,"j":0.01},{"p":4,"v":0.94,"j":0.01},{"p":4,"v":0.94,"j":0.05},
{"p":5,"v":1.99,"j":0.18},{"p":5,"v":1.83,"j":-0.06},{"p":5,"v":1.59,"j":-0.11},
{"p":6,"v":2.57,"j":0.14},{"p":6,"v":1.54,"j":0.13},{"p":6,"v":1.13,"j":0.19},{"p":6,"v":0.65,"j":0.09},{"p":6,"v":0.55,"j":-0.12},{"p":6,"v":-0.67,"j":0.19},
{"p":7,"v":2.03,"j":0.12},
{"p":8,"v":1.59,"j":0.14},{"p":8,"v":0.69,"j":0.12},
{"p":9,"v":1.49,"j":0.1},{"p":9,"v":1.34,"j":-0.14},{"p":9,"v":1.09,"j":0.1},{"p":9,"v":0.97,"j":0.09},{"p":9,"v":-1.27,"j":0.03,"o":1},
{"p":10,"v":1.02,"j":-0.14},{"p":10,"v":-1.18,"j":-0.09},{"p":10,"v":-2.12,"j":-0.02},
{"p":11,"v":0.29,"j":0.16},{"p":11,"v":-0.88,"j":-0.06}
]
},
"vconcat": [
{
"width": 609, "height": 407,
"title": {"text": "a", "anchor": "start", "frame": "group", "dx": -73, "dy": 29, "offset": -8, "baseline": "alphabetic", "fontSize": 28, "fontWeight": "bold", "font": "Liberation Sans", "color": "#000"},
"encoding": {"x": {"field": "p", "type": "ordinal", "scale": {"type": "band", "domain": [1,2,3,4,5,6,7,8,9,10,11,12,13,14,15,16], "paddingInner": 0, "paddingOuter": 0.64}, "axis": null}},
"layer": [
{"data": {"name": "ptsA"}, "transform": [{"filter": "datum.p == 1"}],
 "mark": {"type": "circle", "size": 25, "color": "#3b55b3", "opacity": 1},
 "encoding": {"y": {"field": "v", "type": "quantitative", "scale": {"domain": [-3.423, 3.423], "nice": false, "zero": false},
   "axis": {"title": "Histidine", "titleFont": "Liberation Sans", "titleFontSize": 19.5, "titleFontWeight": "normal", "titleColor": "#000", "titleAngle": 270, "titleAlign": "center", "titleBaseline": "alphabetic", "titleX": -58, "titleY": 203.5, "values": [-3,-2,-1,0,1,2,3], "format": "d", "labelFont": "Liberation Sans", "labelFontSize": 16, "labelColor": "#000", "labelPadding": 7, "tickSize": 7, "tickColor": "#222", "domain": false, "grid": false, "labelFlush": false, "labelOverlap": false}},
  "xOffset": {"field": "j", "type": "quantitative", "scale": {"domain": [-0.5, 0.5], "range": [0, 35.24]}}}},
{"data": {"name": "ptsA"}, "transform": [{"filter": "datum.p > 1"}],
 "mark": {"type": "circle", "size": 10, "color": "#2b3a92", "opacity": 1},
 "encoding": {"y": {"field": "v", "type": "quantitative"}, "xOffset": {"field": "j", "type": "quantitative", "scale": {"domain": [-0.5, 0.5], "range": [0, 35.24]}}}},
{"data": {"name": "ptsA"}, "transform": [{"filter": "datum.o == 1"}],
 "mark": {"type": "point", "shape": "circle", "filled": false, "size": 22, "stroke": "#333", "strokeWidth": 0.8, "opacity": 1},
 "encoding": {"y": {"field": "v", "type": "quantitative"}}},
{"data": {"name": "boxA"}, "mark": {"type": "bar", "width": {"band": 0.8}, "fill": "white", "fillOpacity": 0, "stroke": "#555", "strokeWidth": 1},
 "encoding": {"y": {"field": "q1", "type": "quantitative"}, "y2": {"field": "q3"}}},
{"data": {"name": "boxA"}, "mark": {"type": "rule", "strokeDash": [3, 3], "color": "#333", "strokeWidth": 1},
 "encoding": {"y": {"field": "q3", "type": "quantitative"}, "y2": {"field": "hi"}}},
{"data": {"name": "boxA"}, "mark": {"type": "rule", "strokeDash": [3, 3], "color": "#333", "strokeWidth": 1},
 "encoding": {"y": {"field": "lo", "type": "quantitative"}, "y2": {"field": "q1"}}},
{"data": {"name": "boxA"}, "mark": {"type": "tick", "orient": "horizontal", "size": 14, "thickness": 1, "color": "#333", "opacity": 1},
 "encoding": {"y": {"field": "hi", "type": "quantitative"}}},
{"data": {"name": "boxA"}, "mark": {"type": "tick", "orient": "horizontal", "size": 14, "thickness": 1, "color": "#333", "opacity": 1},
 "encoding": {"y": {"field": "lo", "type": "quantitative"}}},
{"data": {"name": "boxA"}, "mark": {"type": "tick", "orient": "horizontal", "size": 28, "thickness": 3, "color": "#000", "opacity": 1},
 "encoding": {"y": {"field": "med", "type": "quantitative"}}},
{"data": {"name": "labA"},
 "mark": {"type": "text", "font": "Liberation Sans", "fontSize": 19.5, "angle": 270, "align": "right", "baseline": "alphabetic", "dx": 0, "dy": 3, "color": "#111"},
 "encoding": {"y": {"datum": -3.558, "type": "quantitative"}, "text": {"value": ")"}}},
{"data": {"name": "labA"},
 "mark": {"type": "text", "font": "Liberation Sans", "fontSize": 19.5, "angle": 270, "align": "right", "baseline": "alphabetic", "dx": -6.49, "dy": 3, "color": "#111"},
 "encoding": {"y": {"datum": -3.558, "type": "quantitative"}, "text": {"field": "n", "type": "nominal"}}},
{"data": {"name": "labA"}, "transform": [{"filter": "length(datum.n) == 1"}],
 "mark": {"type": "text", "font": "Liberation Sans", "fontSize": 19.5, "angle": 270, "align": "right", "baseline": "alphabetic", "dx": -22.75, "dy": 3, "color": "#111"},
 "encoding": {"y": {"datum": -3.558, "type": "quantitative"}, "text": {"value": "="}}},
{"data": {"name": "labA"}, "transform": [{"filter": "length(datum.n) == 2"}],
 "mark": {"type": "text", "font": "Liberation Sans", "fontSize": 19.5, "angle": 270, "align": "right", "baseline": "alphabetic", "dx": -33.59, "dy": 3, "color": "#111"},
 "encoding": {"y": {"datum": -3.558, "type": "quantitative"}, "text": {"value": "="}}},
{"data": {"name": "labA"}, "transform": [{"filter": "length(datum.n) == 1"}],
 "mark": {"type": "text", "font": "Liberation Sans", "fontSize": 19.5, "fontStyle": "italic", "angle": 270, "align": "right", "baseline": "alphabetic", "dx": -39.56, "dy": 3, "color": "#111"},
 "encoding": {"y": {"datum": -3.558, "type": "quantitative"}, "text": {"value": "n"}}},
{"data": {"name": "labA"}, "transform": [{"filter": "length(datum.n) == 2"}],
 "mark": {"type": "text", "font": "Liberation Sans", "fontSize": 19.5, "fontStyle": "italic", "angle": 270, "align": "right", "baseline": "alphabetic", "dx": -50.4, "dy": 3, "color": "#111"},
 "encoding": {"y": {"datum": -3.558, "type": "quantitative"}, "text": {"value": "n"}}},
{"data": {"name": "labA"}, "transform": [{"filter": "length(datum.n) == 1"}],
 "mark": {"type": "text", "font": "Liberation Sans", "fontSize": 19.5, "angle": 270, "align": "right", "baseline": "alphabetic", "dx": -50.4, "dy": 3, "color": "#111"},
 "encoding": {"y": {"datum": -3.558, "type": "quantitative"}, "text": {"value": "("}}},
{"data": {"name": "labA"}, "transform": [{"filter": "length(datum.n) == 2"}],
 "mark": {"type": "text", "font": "Liberation Sans", "fontSize": 19.5, "angle": 270, "align": "right", "baseline": "alphabetic", "dx": -61.24, "dy": 3, "color": "#111"},
 "encoding": {"y": {"datum": -3.558, "type": "quantitative"}, "text": {"value": "("}}},
{"data": {"name": "labA"}, "transform": [{"filter": "length(datum.n) == 1 && datum.s != '*'"}],
 "mark": {"type": "text", "font": "Liberation Sans", "fontSize": 19.5, "angle": 270, "align": "right", "baseline": "alphabetic", "dx": -62.31, "dy": 3, "color": "#111"},
 "encoding": {"y": {"datum": -3.558, "type": "quantitative"}, "text": {"field": "s", "type": "nominal"}}},
{"data": {"name": "labA"}, "transform": [{"filter": "length(datum.n) == 2"}],
 "mark": {"type": "text", "font": "Liberation Sans", "fontSize": 19.5, "angle": 270, "align": "right", "baseline": "alphabetic", "dx": -73.15, "dy": 3, "color": "#111"},
 "encoding": {"y": {"datum": -3.558, "type": "quantitative"}, "text": {"field": "s", "type": "nominal"}}},
{"data": {"name": "labA"}, "transform": [{"filter": "datum.s == '*'"}],
 "mark": {"type": "text", "font": "Liberation Sans", "fontSize": 19.5, "angle": 270, "align": "right", "baseline": "alphabetic", "dx": -62.31, "dy": -2, "color": "#111"},
 "encoding": {"y": {"datum": -3.558, "type": "quantitative"}, "text": {"field": "s", "type": "nominal"}}},
{"data": {"name": "labA"}, "transform": [{"filter": "datum.u && length(datum.s) + length(datum.n) == 2"}],
 "mark": {"type": "rule", "color": "#111", "strokeWidth": 1.2, "xOffset": 8},
 "encoding": {"y": {"datum": -3.558, "type": "quantitative"}, "y2": {"datum": -4.515}}},
{"data": {"name": "labA"}, "transform": [{"filter": "datum.u && length(datum.s) + length(datum.n) == 11"}],
 "mark": {"type": "rule", "color": "#111", "strokeWidth": 1.2, "xOffset": 8},
 "encoding": {"y": {"datum": -3.558, "type": "quantitative"}, "y2": {"datum": -6.338}}},
{"data": {"name": "labA"}, "transform": [{"filter": "datum.u && length(datum.s) + length(datum.n) == 12"}],
 "mark": {"type": "rule", "color": "#111", "strokeWidth": 1.2, "xOffset": 8},
 "encoding": {"y": {"datum": -3.558, "type": "quantitative"}, "y2": {"datum": -6.52}}},
{"data": {"name": "labA"}, "transform": [{"filter": "datum.u && length(datum.s) + length(datum.n) == 13"}],
 "mark": {"type": "rule", "color": "#111", "strokeWidth": 1.2, "xOffset": 8},
 "encoding": {"y": {"datum": -3.558, "type": "quantitative"}, "y2": {"datum": -6.703}}}
]
},
{
"width": 609, "height": 434,
"title": {"text": "b", "anchor": "start", "frame": "group", "dx": -73, "dy": 29, "offset": -9, "baseline": "alphabetic", "fontSize": 28, "fontWeight": "bold", "font": "Liberation Sans", "color": "#000"},
"encoding": {"x": {"field": "p", "type": "ordinal", "scale": {"type": "band", "domain": [1,2,3,4,5,6,7,8,9,10,11], "paddingInner": 0, "paddingOuter": 0.44}, "axis": null}},
"layer": [
{"data": {"name": "ptsB"}, "transform": [{"filter": "datum.p == 1"}],
 "mark": {"type": "circle", "size": 30, "color": "#3b55b3", "opacity": 1},
 "encoding": {"y": {"field": "v", "type": "quantitative", "scale": {"domain": [-3.7, 3.7], "nice": false, "zero": false},
   "axis": {"title": "Phenylalanine", "titleFont": "Liberation Sans", "titleFontSize": 19.5, "titleFontWeight": "normal", "titleColor": "#000", "titleAngle": 270, "titleAlign": "center", "titleBaseline": "alphabetic", "titleX": -58, "titleY": 217, "values": [-3,-2,-1,0,1,2,3], "format": "d", "labelFont": "Liberation Sans", "labelFontSize": 16, "labelColor": "#000", "labelPadding": 7, "tickSize": 7, "tickColor": "#222", "domain": false, "grid": false, "labelFlush": false, "labelOverlap": false}},
  "xOffset": {"field": "j", "type": "quantitative", "scale": {"domain": [-0.5, 0.5], "range": [0, 51.26]}}}},
{"data": {"name": "ptsB"}, "transform": [{"filter": "datum.p > 1"}],
 "mark": {"type": "circle", "size": 10, "color": "#2b3a92", "opacity": 1},
 "encoding": {"y": {"field": "v", "type": "quantitative"}, "xOffset": {"field": "j", "type": "quantitative", "scale": {"domain": [-0.5, 0.5], "range": [0, 51.26]}}}},
{"data": {"name": "ptsB"}, "transform": [{"filter": "datum.o == 1"}],
 "mark": {"type": "point", "shape": "circle", "filled": false, "size": 24, "stroke": "#333", "strokeWidth": 0.8, "opacity": 1},
 "encoding": {"y": {"field": "v", "type": "quantitative"}}},
{"data": {"name": "boxB"}, "mark": {"type": "bar", "width": {"band": 0.8}, "fill": "white", "fillOpacity": 0, "stroke": "#555", "strokeWidth": 1},
 "encoding": {"y": {"field": "q1", "type": "quantitative"}, "y2": {"field": "q3"}}},
{"data": {"name": "boxB"}, "mark": {"type": "rule", "strokeDash": [3, 3], "color": "#333", "strokeWidth": 1},
 "encoding": {"y": {"field": "q3", "type": "quantitative"}, "y2": {"field": "hi"}}},
{"data": {"name": "boxB"}, "mark": {"type": "rule", "strokeDash": [3, 3], "color": "#333", "strokeWidth": 1},
 "encoding": {"y": {"field": "lo", "type": "quantitative"}, "y2": {"field": "q1"}}},
{"data": {"name": "boxB"}, "mark": {"type": "tick", "orient": "horizontal", "size": 20, "thickness": 1, "color": "#333", "opacity": 1},
 "encoding": {"y": {"field": "hi", "type": "quantitative"}}},
{"data": {"name": "boxB"}, "mark": {"type": "tick", "orient": "horizontal", "size": 20, "thickness": 1, "color": "#333", "opacity": 1},
 "encoding": {"y": {"field": "lo", "type": "quantitative"}}},
{"data": {"name": "boxB"}, "mark": {"type": "tick", "orient": "horizontal", "size": 41, "thickness": 3, "color": "#000", "opacity": 1},
 "encoding": {"y": {"field": "med", "type": "quantitative"}}},
{"data": {"name": "labB"},
 "mark": {"type": "text", "font": "Liberation Sans", "fontSize": 19.5, "angle": 270, "align": "right", "baseline": "alphabetic", "dx": 0, "dy": 3, "color": "#111"},
 "encoding": {"y": {"datum": -3.836, "type": "quantitative"}, "text": {"value": ")"}}},
{"data": {"name": "labB"},
 "mark": {"type": "text", "font": "Liberation Sans", "fontSize": 19.5, "angle": 270, "align": "right", "baseline": "alphabetic", "dx": -6.49, "dy": 3, "color": "#111"},
 "encoding": {"y": {"datum": -3.836, "type": "quantitative"}, "text": {"field": "n", "type": "nominal"}}},
{"data": {"name": "labB"},
 "mark": {"type": "text", "font": "Liberation Sans", "fontSize": 19.5, "angle": 270, "align": "right", "baseline": "alphabetic", "dx": -22.75, "dy": 3, "color": "#111"},
 "encoding": {"y": {"datum": -3.836, "type": "quantitative"}, "text": {"value": "="}}},
{"data": {"name": "labB"},
 "mark": {"type": "text", "font": "Liberation Sans", "fontSize": 19.5, "fontStyle": "italic", "angle": 270, "align": "right", "baseline": "alphabetic", "dx": -39.56, "dy": 3, "color": "#111"},
 "encoding": {"y": {"datum": -3.836, "type": "quantitative"}, "text": {"value": "n"}}},
{"data": {"name": "labB"},
 "mark": {"type": "text", "font": "Liberation Sans", "fontSize": 19.5, "angle": 270, "align": "right", "baseline": "alphabetic", "dx": -50.4, "dy": 3, "color": "#111"},
 "encoding": {"y": {"datum": -3.836, "type": "quantitative"}, "text": {"value": "("}}},
{"data": {"name": "labB"},
 "mark": {"type": "text", "font": "Liberation Sans", "fontSize": 19.5, "angle": 270, "align": "right", "baseline": "alphabetic", "dx": -62.31, "dy": 3, "color": "#111"},
 "encoding": {"y": {"datum": -3.836, "type": "quantitative"}, "text": {"field": "s", "type": "nominal"}}},
{"data": {"name": "labB"}, "transform": [{"filter": "datum.u && length(datum.s) + length(datum.n) == 10"}],
 "mark": {"type": "rule", "color": "#111", "strokeWidth": 1.2, "xOffset": 8},
 "encoding": {"y": {"datum": -3.836, "type": "quantitative"}, "y2": {"datum": -6.469}}},
{"data": {"name": "labB"}, "transform": [{"filter": "datum.u && length(datum.s) + length(datum.n) == 11"}],
 "mark": {"type": "rule", "color": "#111", "strokeWidth": 1.2, "xOffset": 8},
 "encoding": {"y": {"datum": -3.836, "type": "quantitative"}, "y2": {"datum": -6.654}}},
{"data": {"name": "labB"}, "transform": [{"filter": "datum.u && length(datum.s) + length(datum.n) == 12"}],
 "mark": {"type": "rule", "color": "#111", "strokeWidth": 1.2, "xOffset": 8},
 "encoding": {"y": {"datum": -3.836, "type": "quantitative"}, "y2": {"datum": -6.839}}}
]
}
]
}
